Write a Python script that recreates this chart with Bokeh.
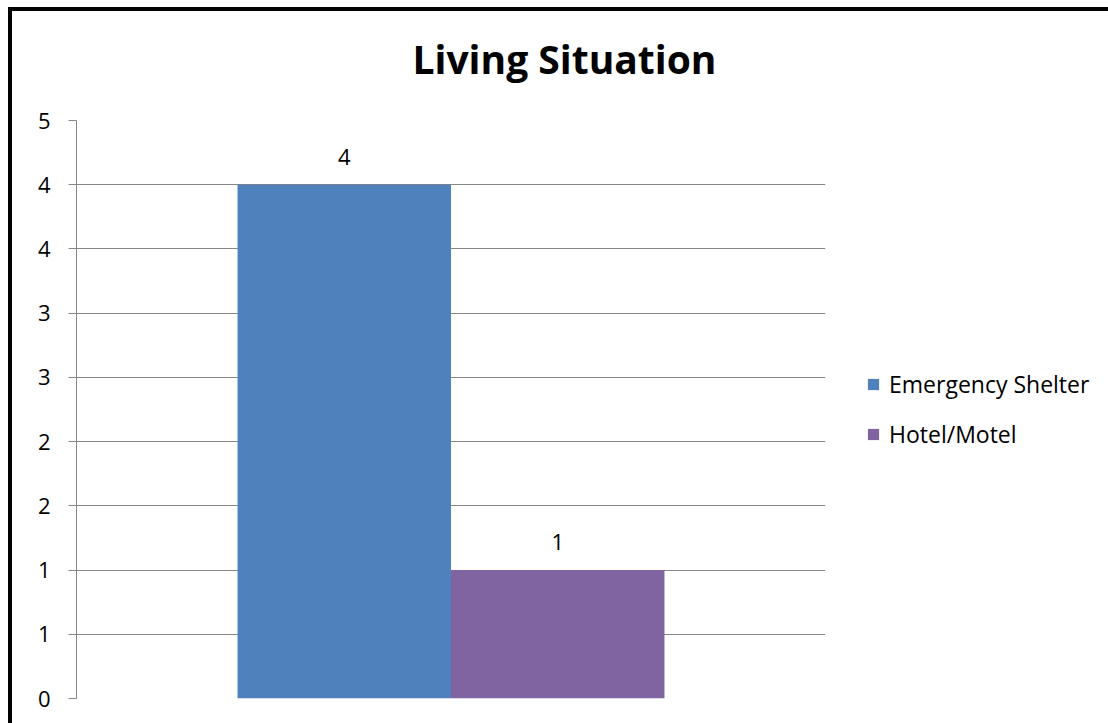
from bokeh.plotting import figure
from bokeh.models import (ColumnDataSource, FactorRange, Range1d, FixedTicker,
                          Legend, LegendItem, Title)
from bokeh.transform import dodge
from bokeh.core.properties import value
from bokeh.embed import file_html
from bokeh.resources import INLINE

# ---- data ----
categories = ["Living Situation"]
series = ["Emergency Shelter", "Hotel/Motel"]
counts = [4, 1]
colors = ["#4F81BD", "#8064A2"]
y_ticks = [0.0, 0.5, 1.0, 1.5, 2.0, 2.5, 3.0, 3.5, 4.0, 4.5]
y_tick_labels = ["0", "1", "1", "2", "2", "3", "3", "4", "4", "5"]

FONT = "Open Sans"
GRAY = "#868686"

p = figure(frame_width=749, frame_height=578,
           x_range=FactorRange(factors=categories, range_padding=0),
           y_range=Range1d(0, 4.5),
           output_backend="svg", toolbar_location=None,
           min_border_left=64, min_border_right=283,
           min_border_top=109, min_border_bottom=25)
p.styles = {"border-left": "4px solid black", "border-top": "4px solid black",
            "margin-left": "8px", "margin-top": "7px"}
p.background_fill_color = "white"
p.border_fill_color = "white"
p.outline_line_color = None

bar_w = 0.285
offsets = [-bar_w / 2, bar_w / 2]
items = []
for name, cnt, col, off in zip(series, counts, colors, offsets):
    src = ColumnDataSource(dict(x=categories, top=[cnt], label=[str(cnt)]))
    r = p.vbar(x=dodge("x", off, range=p.x_range), top="top", width=bar_w,
               source=src, fill_color=col, line_color=None)
    p.text(x=dodge("x", off, range=p.x_range), y="top", text="label", source=src,
           text_align="center", text_baseline="alphabetic", y_offset=-28,
           text_font=value(FONT), text_font_size="22px", text_color="black")
    items.append(LegendItem(label=name, renderers=[r]))

legend = Legend(items=items, location=(41, 248), orientation="vertical",
                glyph_width=14, glyph_height=14, label_standoff=9,
                spacing=18, padding=10, margin=0,
                border_line_color=None, background_fill_alpha=0,
                label_text_font=FONT, label_text_font_size="23px",
                label_text_color="black")
p.add_layout(legend, "right")

# spacer between frame and title (closest to the frame)
p.add_layout(Title(text=" ", text_font_size="2px", standoff=27), "above")
p.add_layout(Title(text="Living Situation", align="left", offset=336, standoff=10,
                   text_font=FONT, text_font_size="39px", text_font_style="bold",
                   text_color="black"), "above")

p.xaxis.visible = False
p.xgrid.visible = False

p.yaxis.ticker = FixedTicker(ticks=y_ticks)
p.yaxis.major_label_overrides = dict(zip(y_ticks, y_tick_labels))
p.yaxis.axis_line_color = GRAY
p.yaxis.major_tick_line_color = GRAY
p.yaxis.major_tick_out = 8
p.yaxis.major_tick_in = 0
p.yaxis.minor_tick_line_color = None
p.yaxis.major_label_standoff = 18
p.yaxis.major_label_text_font = FONT
p.yaxis.major_label_text_font_size = "22px"
p.yaxis.major_label_text_color = "black"
p.ygrid.grid_line_color = GRAY
p.ygrid.grid_line_alpha = 1.0

open("out.html", "w").write(file_html(p, INLINE))
